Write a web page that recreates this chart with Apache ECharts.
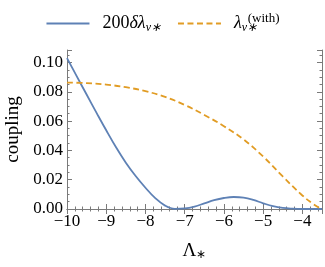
<!DOCTYPE html>
<html>
<head>
<meta charset="utf-8">
<script src="https://cdn.jsdelivr.net/npm/echarts@6/dist/echarts.min.js"></script>
<style>
html,body{margin:0;padding:0;background:#fff;}
#c{width:325px;height:267px;}
</style>
</head>
<body>
<div id="c"></div>
<script>
const blueX = [-10, -9.75, -9.5, -9.25, -9.0, -8.75, -8.5, -8.25, -8.0, -7.75, -7.5, -7.25, -7.0, -6.75, -6.5, -6.25, -6.0, -5.75, -5.5, -5.25, -5.0, -4.75, -4.5, -4.25, -4.0, -3.75, -3.5];
const blueY = [0.1030, 0.0905, 0.0781, 0.0658, 0.0537, 0.0421, 0.0316, 0.0225, 0.0145, 0.0074, 0.0023, 0.0001, 0.0004, 0.0017, 0.0038, 0.0060, 0.0075, 0.0082, 0.0078, 0.0062, 0.0039, 0.0019, 0.0007, 0.0002, 0.0, 0.0, 0.0];
const orangeX = [-10, -9.5, -9.0, -8.5, -8.0, -7.5, -7.0, -6.5, -6.0, -5.5, -5.0, -4.5, -4.0, -3.75, -3.55];
const orangeY = [0.0863, 0.0859, 0.0849, 0.0831, 0.0804, 0.0765, 0.0710, 0.0642, 0.0565, 0.0475, 0.0358, 0.0222, 0.0092, 0.0039, 0.0005];
const xTickLabels = ['−10', '−9', '−8', '−7', '−6', '−5', '−4'];
const yTickLabels = ['0.00', '0.02', '0.04', '0.06', '0.08', '0.10'];
const seriesNames = ['blue', 'orange'];

const FONT = 'Liberation Serif';
const FRAME = '#7a7a7a';
const xMin = -10, xMax = -3.5, yMin = 0, yMax = 0.1085;

function xAxis(pos, interval, len, labels, line) {
  return {
    type: 'value', position: pos, min: xMin, max: xMax, interval: interval,
    axisLine: {show: line, lineStyle: {color: FRAME, width: 1}},
    axisTick: {show: true, inside: true, length: len, lineStyle: {color: FRAME, width: 1}},
    axisLabel: {show: labels, margin: 4, fontFamily: FONT, fontSize: 17, color: '#000',
      formatter: v => {
        const k = Math.round(v - xMin);
        return Math.abs(v - xMin - k) < 1e-6 && k < xTickLabels.length ? xTickLabels[k] : '';
      }},
    splitLine: {show: false}
  };
}
function yAxis(pos, interval, len, labels, line) {
  return {
    type: 'value', position: pos, min: yMin, max: yMax, interval: interval,
    axisLine: {show: line, lineStyle: {color: FRAME, width: 1}},
    axisTick: {show: true, inside: true, length: len, lineStyle: {color: FRAME, width: 1}},
    axisLabel: {show: labels, margin: 4, fontFamily: FONT, fontSize: 17, color: '#000',
      formatter: v => {
        const k = Math.round(v / 0.02);
        return Math.abs(v / 0.02 - k) < 1e-6 && k < yTickLabels.length ? yTickLabels[k] : '';
      }},
    splitLine: {show: false}
  };
}

const xs = [
  xAxis('bottom', 1, 5, true, true),
  xAxis('bottom', 0.2, 2.5, false, false),
  xAxis('top', 1, 5, false, true),
  xAxis('top', 0.2, 2.5, false, false)
];
xs[0].name = '{m|Λ}{s|∗}';
xs[0].nameLocation = 'middle';
xs[0].nameGap = 32;
xs[0].nameTextStyle = {fontFamily: FONT, color: '#000', rich: {
  m: {fontSize: 19, fontFamily: FONT},
  s: {fontSize: 12, fontFamily: FONT, padding: [8, 0, 0, 0]}
}};
const ys = [
  yAxis('left', 0.02, 5, true, true),
  yAxis('left', 0.005, 2.5, false, false),
  yAxis('right', 0.02, 5, false, true),
  yAxis('right', 0.005, 2.5, false, false)
];
ys[0].name = 'coupling';
ys[0].nameLocation = 'middle';
ys[0].nameGap = 42;
ys[0].nameTextStyle = {fontFamily: FONT, fontSize: 19, color: '#000'};

const chart = echarts.init(document.getElementById('c'), null, {renderer: 'canvas'});
chart.setOption({
  animation: false,
  backgroundColor: '#fff',
  grid: {left: 67, right: 3, top: 50, bottom: 58, containLabel: false, outerBoundsMode: 'none'},
  legend: {
    data: seriesNames, top: 7, left: 'center', itemWidth: 43, itemHeight: 12, itemGap: 16,
    itemStyle: {opacity: 0},
    textStyle: {fontFamily: FONT, fontSize: 18, color: '#000', padding: [0, 0, 0, 8], rich: {
      n: {fontFamily: FONT, fontSize: 18, color: '#000'},
      i: {fontFamily: FONT, fontSize: 18, fontStyle: 'italic', color: '#000'},
      sub: {fontFamily: FONT, fontSize: 12, fontStyle: 'italic', color: '#000', padding: [9, 0, 0, 0]},
      sub2: {fontFamily: FONT, fontSize: 12, fontStyle: 'italic', color: '#000', padding: [9, 0, 0, 0], width: 6},
      sup: {fontFamily: FONT, fontSize: 13, color: '#000', padding: [0, 0, 10, 0]}
    }},
    formatter: name => name === 'blue' ? '{n|200}{i|δλ}{sub|v∗}' : '{i|λ}{sub2|v∗}{sup|(with)}'
  },
  xAxis: xs,
  yAxis: ys,
  series: [
    {name: 'blue', type: 'line', xAxisIndex: 0, yAxisIndex: 0, symbol: 'none', smooth: 0.4,
      data: blueX.map((x, i) => [x, blueY[i]]),
      lineStyle: {color: '#5E81B5', width: 1.8}, itemStyle: {color: '#5E81B5'}},
    {name: 'orange', type: 'line', xAxisIndex: 0, yAxisIndex: 0, symbol: 'none', smooth: 0.4,
      data: orangeX.map((x, i) => [x, orangeY[i]]),
      lineStyle: {color: '#E19C24', width: 1.8, type: [6, 3.5]}, itemStyle: {color: '#E19C24'}}
  ]
});
</script>
</body>
</html>
